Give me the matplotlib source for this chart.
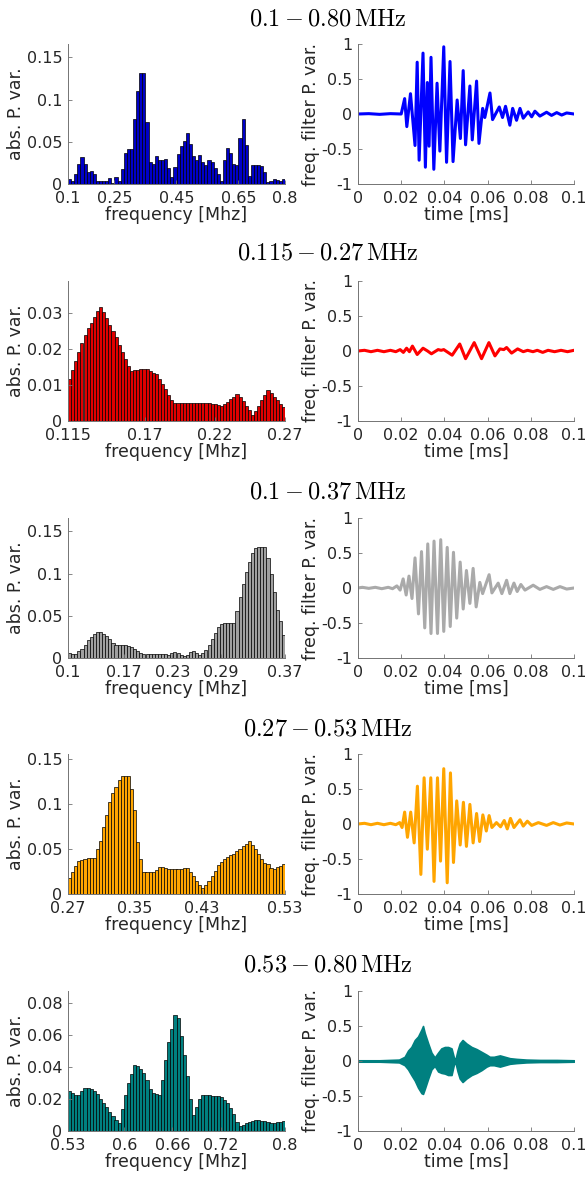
# Import Libraries
import numpy as np
import matplotlib
matplotlib.use("Agg")
import matplotlib.pyplot as plt

plt.rcParams['mathtext.fontset'] = 'cm'
plt.rcParams['axes.unicode_minus'] = False
plt.rcParams['font.family'] = ['DejaVu Sans']

# Band titles and frequency limits
titles = [r'$0.1 - 0.80\,\mathrm{MHz}$', r'$0.115 - 0.27\,\mathrm{MHz}$',
          r'$0.1 - 0.37\,\mathrm{MHz}$', r'$0.27 - 0.53\,\mathrm{MHz}$',
          r'$0.53 - 0.80\,\mathrm{MHz}$']
bands = [(0.1, 0.8), (0.115, 0.27), (0.1, 0.37), (0.27, 0.53), (0.53, 0.8)]
freq_ticks = [[0.1, 0.25, 0.45, 0.65, 0.8], [0.115, 0.17, 0.22, 0.27],
              [0.1, 0.17, 0.23, 0.29, 0.37], [0.27, 0.35, 0.43, 0.53],
              [0.53, 0.6, 0.66, 0.72, 0.8]]
amp_ticks = [[0, 0.05, 0.1, 0.15], [0, 0.01, 0.02, 0.03], [0, 0.05, 0.1, 0.15],
             [0, 0.05, 0.1, 0.15], [0, 0.02, 0.04, 0.06, 0.08]]
amp_top = [0.166, 0.039, 0.166, 0.156, 0.0875]
colors = ['#0000C8', '#E00000', '#A0A0A0', '#FFA500', '#008080']
line_colors = ['#0000FF', '#FF0000', '#AAAAAA', '#FFA500', '#008080']

# Spectrum (abs. P. var.), 70 bins per band
spec_full = [0.006, 0.004, 0.012, 0.024, 0.032, 0.024, 0.014, 0.015, 0.012, 0.004,
             0.004, 0.004, 0.003, 0.007, 0.001, 0.008, 0.004, 0.018, 0.037, 0.041,
             0.041, 0.077, 0.110, 0.132, 0.132, 0.074, 0.026, 0.024, 0.033, 0.029,
             0.029, 0.030, 0.019, 0.008, 0.020, 0.036, 0.045, 0.051, 0.060, 0.047,
             0.033, 0.028, 0.034, 0.026, 0.022, 0.028, 0.026, 0.019, 0.012, 0.004,
             0.028, 0.043, 0.037, 0.024, 0.023, 0.054, 0.077, 0.046, 0.010, 0.023,
             0.022, 0.022, 0.021, 0.014, 0.002, 0.004, 0.006, 0.005, 0.004, 0.006]
spec_low = [0.0117, 0.0142, 0.0167, 0.0192, 0.0216, 0.0240, 0.0258, 0.0273, 0.0289, 0.0306,
            0.0317, 0.0305, 0.0286, 0.0268, 0.0251, 0.0233, 0.0213, 0.0193, 0.0173, 0.0153,
            0.0140, 0.0142, 0.0142, 0.0144, 0.0146, 0.0144, 0.0139, 0.0134, 0.0131, 0.0118,
            0.0103, 0.0088, 0.0072, 0.0058, 0.0050, 0.0049, 0.0049, 0.0050, 0.0050, 0.0050,
            0.0050, 0.0050, 0.0050, 0.0050, 0.0049, 0.0049, 0.0048, 0.0047, 0.0044, 0.0043,
            0.0047, 0.0054, 0.0062, 0.0068, 0.0076, 0.0067, 0.0055, 0.0042, 0.0030, 0.0017,
            0.0028, 0.0042, 0.0058, 0.0072, 0.0086, 0.0079, 0.0068, 0.0058, 0.0048, 0.0038]
spec_mid1 = [0.006, 0.005, 0.005, 0.008, 0.011, 0.015, 0.021, 0.025, 0.028, 0.031,
             0.031, 0.029, 0.026, 0.022, 0.018, 0.015, 0.015, 0.015, 0.015, 0.014,
             0.013, 0.011, 0.008, 0.006, 0.005, 0.005, 0.005, 0.005, 0.005, 0.005,
             0.005, 0.005, 0.004, 0.006, 0.007, 0.006, 0.004, 0.002, 0.004, 0.007,
             0.008, 0.006, 0.004, 0.006, 0.010, 0.016, 0.022, 0.030, 0.037, 0.040,
             0.041, 0.042, 0.042, 0.042, 0.056, 0.072, 0.088, 0.102, 0.114, 0.124,
             0.131, 0.132, 0.132, 0.132, 0.118, 0.100, 0.078, 0.057, 0.044, 0.027]
spec_mid2 = [0.0175, 0.025, 0.031, 0.037, 0.038, 0.0395, 0.040, 0.040, 0.040, 0.050,
             0.059, 0.075, 0.088, 0.103, 0.112, 0.119, 0.127, 0.131, 0.131, 0.131,
             0.117, 0.094, 0.058, 0.039, 0.025, 0.024, 0.024, 0.025, 0.027, 0.030,
             0.030, 0.029, 0.028, 0.028, 0.028, 0.028, 0.028, 0.029, 0.029, 0.025,
             0.020, 0.015, 0.010, 0.007, 0.010, 0.015, 0.020, 0.026, 0.032, 0.036,
             0.039, 0.041, 0.043, 0.045, 0.048, 0.050, 0.053, 0.056, 0.059, 0.055,
             0.050, 0.045, 0.039, 0.035, 0.033, 0.029, 0.028, 0.030, 0.031, 0.033]
spec_high = [0.0248, 0.0238, 0.0227, 0.0227, 0.0248, 0.0271, 0.0271, 0.0263, 0.0252, 0.0229,
             0.0202, 0.0177, 0.0148, 0.0119, 0.0092, 0.0067, 0.0048, 0.0135, 0.0227, 0.0300,
             0.0356, 0.0415, 0.0408, 0.0390, 0.0365, 0.0317, 0.0263, 0.0238, 0.0233, 0.0227,
             0.0321, 0.0442, 0.0554, 0.0640, 0.0723, 0.0708, 0.0592, 0.0477, 0.0342, 0.0200,
             0.0098, 0.0150, 0.0202, 0.0227, 0.0225, 0.0223, 0.0221, 0.0219, 0.0217, 0.0210,
             0.0196, 0.0173, 0.0144, 0.0104, 0.0058, 0.0029, 0.0040, 0.0048, 0.0056, 0.0065,
             0.0069, 0.0067, 0.0062, 0.0060, 0.0056, 0.0052, 0.0052, 0.0054, 0.0056, 0.0060]
spectra = [spec_full, spec_low, spec_mid1, spec_mid2, spec_high]

# Filtered signals (time [ms], value) read at the turning points
wave_full = [(0, 0), (0.005, 0.005), (0.010, -0.005), (0.015, 0.005), (0.020, 0),
             (0.0216, 0.22), (0.0226, -0.18), (0.0243, 0.29), (0.0264, -0.45), (0.0274, 0.74),
             (0.0283, -0.66), (0.0301, 0.87), (0.0312, -0.76), (0.0321, 0.45), (0.0329, -0.46),
             (0.0338, 0.81), (0.0351, -0.79), (0.0366, 0.44), (0.0379, -0.53), (0.0397, 0.96),
             (0.0410, -0.69), (0.0426, 0.75), (0.0440, -0.68), (0.0459, 0.20), (0.0474, -0.35),
             (0.0487, 0.62), (0.0498, -0.44), (0.0518, 0.40), (0.0529, -0.37), (0.0549, 0.47),
             (0.0560, -0.42), (0.0577, 0.08), (0.0587, -0.05), (0.0611, 0.30), (0.0623, -0.08),
             (0.0654, 0.10), (0.0669, -0.05), (0.0683, 0.11), (0.0703, -0.16), (0.0716, 0.08),
             (0.0734, -0.09), (0.0750, 0.08), (0.0765, -0.06), (0.0788, 0.03), (0.0804, -0.04),
             (0.0819, 0.04), (0.0842, -0.03), (0.0873, 0.025), (0.0896, -0.02), (0.0920, 0.02),
             (0.0943, -0.015), (0.0966, 0.015), (0.1, 0)]
wave_low = [(0, 0), (0.003, 0.01), (0.006, -0.01), (0.009, 0.01), (0.012, -0.01),
            (0.015, 0.01), (0.0175, -0.01), (0.0195, 0.02), (0.021, -0.02), (0.0225, 0.04),
            (0.0238, -0.01), (0.0252, 0.07), (0.0274, -0.05), (0.0301, 0.04), (0.0322, 0.0),
            (0.034, -0.04), (0.0371, 0.02), (0.0385, 0.01), (0.0397, 0.02), (0.0436, -0.06),
            (0.0471, 0.10), (0.0498, -0.11), (0.0538, 0.12), (0.0572, -0.11), (0.0606, 0.12),
            (0.0634, -0.07), (0.0657, 0.03), (0.0675, 0.02), (0.0688, 0.05), (0.0711, -0.03),
            (0.0739, 0.03), (0.0765, -0.01), (0.0785, 0.01), (0.081, -0.01), (0.083, 0.01),
            (0.0855, -0.02), (0.088, 0.01), (0.091, -0.01), (0.094, 0.01), (0.097, -0.01),
            (0.1, 0.01)]
wave_mid1 = [(0, 0), (0.002, 0.01), (0.005, -0.005), (0.008, 0.01), (0.011, -0.01),
             (0.014, 0.01), (0.016, -0.01), (0.018, 0.03), (0.0195, -0.03),
             (0.0209, 0.13), (0.0223, -0.10), (0.0236, 0.17), (0.0250, -0.15), (0.0264, 0.43),
             (0.0280, -0.37), (0.0294, 0.52), (0.0309, -0.57), (0.0323, 0.63), (0.0338, -0.65),
             (0.0352, 0.67), (0.0368, -0.65), (0.0383, 0.69), (0.0397, -0.62), (0.0413, 0.58),
             (0.0427, -0.55), (0.0442, 0.51), (0.0457, -0.43), (0.0473, 0.37), (0.0487, -0.30),
             (0.0502, 0.25), (0.0518, -0.22), (0.0533, 0.28), (0.0547, -0.27), (0.0564, 0.08),
             (0.0577, -0.08), (0.0607, 0.19), (0.0620, -0.07), (0.0649, 0.07), (0.0666, -0.08),
             (0.0688, 0.11), (0.0703, -0.08), (0.0722, 0.07), (0.0737, -0.05), (0.0754, 0.05),
             (0.0773, -0.03), (0.0811, 0.04), (0.0842, -0.02), (0.0873, 0.02), (0.0904, -0.02),
             (0.0935, 0.02), (0.0966, -0.015), (0.1, 0)]
wave_mid2 = [(0, 0), (0.003, 0.01), (0.006, -0.01), (0.009, 0.01), (0.012, -0.01),
             (0.015, 0.01), (0.0175, -0.01), (0.0193, 0.02), (0.0204, -0.05), (0.0216, 0.17),
             (0.0229, -0.19), (0.0244, 0.17), (0.0260, -0.27), (0.0275, 0.54), (0.0291, -0.72),
             (0.0306, 0.66), (0.0321, -0.36), (0.0337, 0.66), (0.0352, -0.82), (0.0368, 0.66),
             (0.0382, -0.53), (0.0397, 0.79), (0.0413, -0.84), (0.0428, 0.73), (0.0442, -0.55),
             (0.0457, 0.33), (0.0473, -0.30), (0.0488, 0.31), (0.0502, -0.32), (0.0518, 0.28),
             (0.0533, -0.27), (0.0549, 0.15), (0.0563, -0.25), (0.0578, 0.13), (0.0594, -0.10),
             (0.0607, 0.12), (0.0620, -0.05), (0.0641, 0.02), (0.0660, -0.04), (0.0677, 0.05),
             (0.0691, -0.07), (0.0706, 0.08), (0.0722, -0.05), (0.0750, 0.06), (0.0765, -0.03),
             (0.0784, 0.04), (0.0804, -0.02), (0.0835, 0.02), (0.0873, -0.02), (0.0904, 0.02),
             (0.0935, -0.015), (0.0966, 0.015), (0.1, 0)]
waves = [wave_full, wave_low, wave_mid1, wave_mid2]

# Last band is too dense to trace: upper / lower envelope
env_t = [0, 0.01, 0.019, 0.0216, 0.0232, 0.0247, 0.0263, 0.0278, 0.0294, 0.0301,
         0.0309, 0.0325, 0.034, 0.0355, 0.0371, 0.0386, 0.0402, 0.0417, 0.0433, 0.0444,
         0.0451, 0.0461, 0.0471, 0.0484, 0.0502, 0.0526, 0.0549, 0.0572, 0.0595, 0.061,
         0.0629, 0.0657, 0.068, 0.0703, 0.0734, 0.078, 0.0842, 0.092, 0.1]
env_up = [0.01, 0.01, 0.02, 0.06, 0.15, 0.2, 0.3, 0.35, 0.45, 0.5,
          0.4, 0.25, 0.12, 0.05, 0.12, 0.18, 0.2, 0.2, 0.18, 0.05,
          0.02, 0.15, 0.25, 0.3, 0.25, 0.2, 0.17, 0.13, 0.09, 0.06,
          0.06, 0.08, 0.06, 0.04, 0.03, 0.02, 0.015, 0.015, 0.01]
env_lo = [-0.01, -0.01, -0.02, -0.06, -0.12, -0.2, -0.28, -0.38, -0.46, -0.47,
          -0.4, -0.25, -0.12, -0.07, -0.15, -0.17, -0.18, -0.2, -0.2, -0.05,
          -0.02, -0.15, -0.25, -0.3, -0.25, -0.2, -0.17, -0.13, -0.08, -0.06,
          -0.06, -0.08, -0.06, -0.04, -0.03, -0.02, -0.015, -0.015, -0.01]

time_ticks = [0, 0.02, 0.04, 0.06, 0.08, 0.1]
sig_ticks = [-1, -0.5, 0, 0.5, 1]

# Layout (pixels of a 585x1178 figure)
W, H = 585, 1178
row_top = [44, 281, 518, 754, 991]
row_title = [18, 253, 492, 728, 965]
ax_h = 140


def style(ax):
    for s in ['top', 'right']:
        ax.spines[s].set_visible(False)
    for s in ['left', 'bottom']:
        ax.spines[s].set_color('0.45')
        ax.spines[s].set_linewidth(0.7)
    ax.tick_params(direction='in', length=3, width=0.6, color='0.45',
                   labelsize=11.5, labelcolor='#262626')
    ax.tick_params(axis='x', pad=5)
    ax.tick_params(axis='y', pad=4)


def fmt(v):
    return '%g' % v


fig = plt.figure(figsize=(W / 100, H / 100), dpi=100)

for r in range(5):
    lo, hi = bands[r]
    bottom = 1 - (row_top[r] + ax_h) / H

    # Spectrum
    ax = fig.add_axes([68 / W, bottom, 217 / W, ax_h / H])
    vals = spectra[r]
    edges = np.linspace(lo, hi, len(vals) + 1)
    ax.bar(edges[:-1], vals, width=edges[1] - edges[0], align='edge',
           color=colors[r], edgecolor='k', linewidth=0.5)
    ax.set_xlim(lo, hi)
    ax.set_ylim(0, amp_top[r])
    ax.set_xticks(freq_ticks[r])
    ax.set_xticklabels([fmt(v) for v in freq_ticks[r]])
    ax.set_yticks(amp_ticks[r])
    ax.set_yticklabels([fmt(v) for v in amp_ticks[r]])
    ax.set_xlabel('frequency [Mhz]', fontsize=12.5, color='#262626', labelpad=0)
    ax.set_ylabel('abs. P. var.', fontsize=12.5, color='#262626', labelpad=1)
    style(ax)

    # Filtered signal
    ax2 = fig.add_axes([358 / W, bottom, 216 / W, ax_h / H])
    if r < 4:
        t = [p[0] for p in waves[r]]
        v = [p[1] for p in waves[r]]
        ax2.plot(t, v, color=line_colors[r], linewidth=2.2, solid_joinstyle='round')
    else:
        ax2.fill_between(env_t, env_lo, env_up, color=line_colors[r],
                         linewidth=1.2, edgecolor=line_colors[r])
    ax2.set_xlim(0, 0.1)
    ax2.set_ylim(-1, 1)
    ax2.set_xticks(time_ticks)
    ax2.set_xticklabels([fmt(v) for v in time_ticks])
    ax2.set_yticks(sig_ticks)
    ax2.set_yticklabels([fmt(v) for v in sig_ticks])
    ax2.set_xlabel('time [ms]', fontsize=12.5, color='#262626', labelpad=0)
    ax2.set_ylabel('freq. filter P. var.', fontsize=12.5, color='#262626', labelpad=1)
    style(ax2)

    fig.text(328 / W, 1 - row_title[r] / H, titles[r], ha='center', va='center',
             fontsize=17.5)

plt.savefig("out.png", dpi=100)
plt.close()
